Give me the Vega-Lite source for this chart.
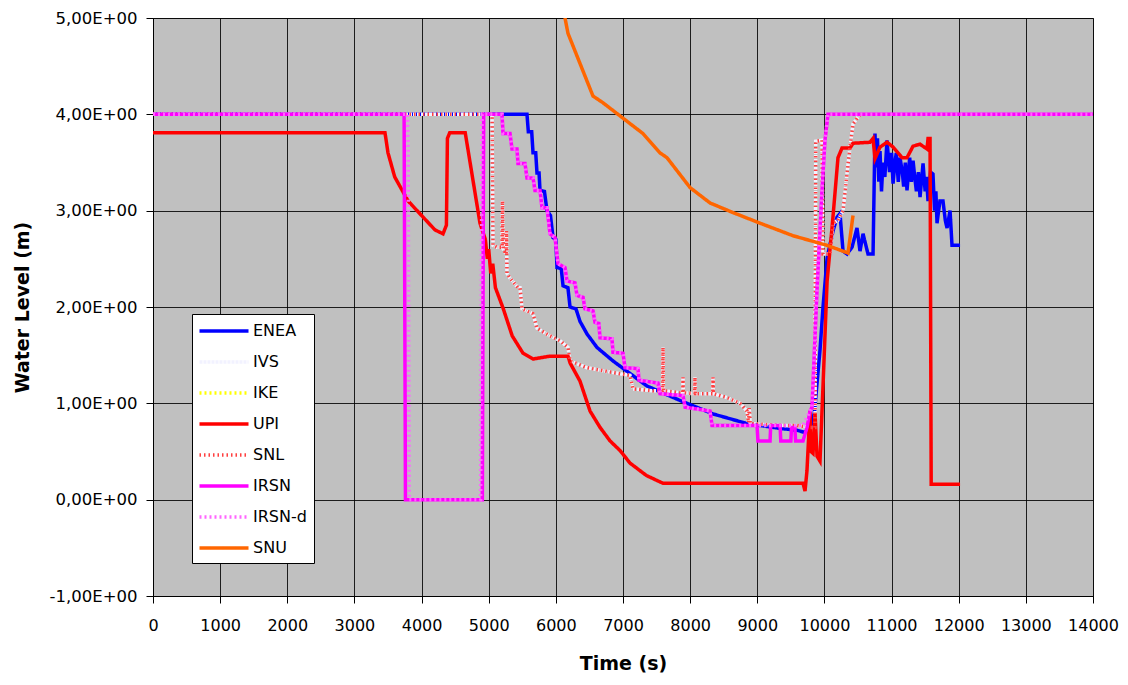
{
  "$schema": "https://vega.github.io/schema/vega-lite/v6.json",
  "width": 940,
  "height": 578,
  "autosize": {"type": "none"},
  "padding": {"left": 153, "top": 18, "right": 35, "bottom": 89},
  "background": "white",
  "config": {
    "view": {"fill": "#C0C0C0", "stroke": "#444444", "strokeWidth": 1},
    "axis": {"gridColor": "#000000", "gridOpacity": 0.85, "gridWidth": 1, "domainColor": "#000000", "tickColor": "#000000", "labelColor": "#000000", "titleColor": "#000000"}
  },
  "data": {"values": [
    {"s":"ENEA","t":0,"v":4.0},{"s":"ENEA","t":5570,"v":4.0},{"s":"ENEA","t":5590,"v":3.82},{"s":"ENEA","t":5640,"v":3.82},{"s":"ENEA","t":5660,"v":3.6},{"s":"ENEA","t":5700,"v":3.6},{"s":"ENEA","t":5719,"v":3.39},{"s":"ENEA","t":5750,"v":3.39},{"s":"ENEA","t":5764,"v":3.21},{"s":"ENEA","t":5830,"v":3.2},{"s":"ENEA","t":5868,"v":3.0},{"s":"ENEA","t":5920,"v":2.95},{"s":"ENEA","t":5958,"v":2.72},{"s":"ENEA","t":6000,"v":2.7},{"s":"ENEA","t":6017,"v":2.41},{"s":"ENEA","t":6080,"v":2.4},{"s":"ENEA","t":6107,"v":2.22},{"s":"ENEA","t":6180,"v":2.2},{"s":"ENEA","t":6211,"v":2.0},{"s":"ENEA","t":6300,"v":1.98},{"s":"ENEA","t":6360,"v":1.85},{"s":"ENEA","t":6464,"v":1.72},{"s":"ENEA","t":6613,"v":1.58},{"s":"ENEA","t":6851,"v":1.44},{"s":"ENEA","t":7104,"v":1.31},{"s":"ENEA","t":7357,"v":1.18},{"s":"ENEA","t":7849,"v":1.03},{"s":"ENEA","t":8341,"v":0.89},{"s":"ENEA","t":8847,"v":0.79},{"s":"ENEA","t":9339,"v":0.74},{"s":"ENEA","t":9592,"v":0.72},{"s":"ENEA","t":9700,"v":0.7},{"s":"ENEA","t":9780,"v":0.72},{"s":"ENEA","t":9850,"v":0.9},{"s":"ENEA","t":9934,"v":1.55},{"s":"ENEA","t":9979,"v":2.0},{"s":"ENEA","t":10040,"v":2.51},{"s":"ENEA","t":10128,"v":2.79},{"s":"ENEA","t":10187,"v":2.93},{"s":"ENEA","t":10232,"v":2.97},{"s":"ENEA","t":10277,"v":2.58},{"s":"ENEA","t":10336,"v":2.55},{"s":"ENEA","t":10411,"v":2.62},{"s":"ENEA","t":10485,"v":2.82},{"s":"ENEA","t":10530,"v":2.58},{"s":"ENEA","t":10575,"v":2.76},{"s":"ENEA","t":10649,"v":2.55},{"s":"ENEA","t":10724,"v":2.55},{"s":"ENEA","t":10753,"v":3.8},{"s":"ENEA","t":10770,"v":3.45},{"s":"ENEA","t":10790,"v":3.75},{"s":"ENEA","t":10810,"v":3.3},{"s":"ENEA","t":10828,"v":3.62},{"s":"ENEA","t":10850,"v":3.2},{"s":"ENEA","t":10872,"v":3.5},{"s":"ENEA","t":10900,"v":3.35},{"s":"ENEA","t":10932,"v":3.73},{"s":"ENEA","t":10970,"v":3.4},{"s":"ENEA","t":11000,"v":3.6},{"s":"ENEA","t":11022,"v":3.28},{"s":"ENEA","t":11050,"v":3.5},{"s":"ENEA","t":11070,"v":3.6},{"s":"ENEA","t":11100,"v":3.3},{"s":"ENEA","t":11126,"v":3.55},{"s":"ENEA","t":11160,"v":3.4},{"s":"ENEA","t":11180,"v":3.25},{"s":"ENEA","t":11205,"v":3.5},{"s":"ENEA","t":11230,"v":3.21},{"s":"ENEA","t":11270,"v":3.55},{"s":"ENEA","t":11295,"v":3.3},{"s":"ENEA","t":11320,"v":3.52},{"s":"ENEA","t":11345,"v":3.35},{"s":"ENEA","t":11370,"v":3.2},{"s":"ENEA","t":11400,"v":3.4},{"s":"ENEA","t":11424,"v":3.14},{"s":"ENEA","t":11469,"v":3.49},{"s":"ENEA","t":11500,"v":3.2},{"s":"ENEA","t":11520,"v":3.35},{"s":"ENEA","t":11543,"v":3.1},{"s":"ENEA","t":11580,"v":3.4},{"s":"ENEA","t":11617,"v":3.38},{"s":"ENEA","t":11640,"v":3.0},{"s":"ENEA","t":11660,"v":3.2},{"s":"ENEA","t":11677,"v":2.87},{"s":"ENEA","t":11720,"v":3.1},{"s":"ENEA","t":11766,"v":3.1},{"s":"ENEA","t":11800,"v":2.9},{"s":"ENEA","t":11826,"v":2.82},{"s":"ENEA","t":11871,"v":3.0},{"s":"ENEA","t":11900,"v":2.64},{"s":"ENEA","t":12020,"v":2.64},

    {"s":"IVS","t":0,"v":4.0},{"s":"IVS","t":5050,"v":4.0},{"s":"IVS","t":5064,"v":2.64},{"s":"IVS","t":5123,"v":2.62},{"s":"IVS","t":5200,"v":2.62},{"s":"IVS","t":5205,"v":3.1},{"s":"IVS","t":5215,"v":2.6},{"s":"IVS","t":5260,"v":2.55},{"s":"IVS","t":5265,"v":2.79},{"s":"IVS","t":5272,"v":2.35},{"s":"IVS","t":5317,"v":2.3},{"s":"IVS","t":5436,"v":2.2},{"s":"IVS","t":5466,"v":2.2},{"s":"IVS","t":5496,"v":1.98},{"s":"IVS","t":5660,"v":1.93},{"s":"IVS","t":5719,"v":1.78},{"s":"IVS","t":5913,"v":1.7},{"s":"IVS","t":6062,"v":1.65},{"s":"IVS","t":6181,"v":1.58},{"s":"IVS","t":6211,"v":1.44},{"s":"IVS","t":6464,"v":1.37},{"s":"IVS","t":6851,"v":1.32},{"s":"IVS","t":7104,"v":1.29},{"s":"IVS","t":7149,"v":1.15},{"s":"IVS","t":7447,"v":1.13},{"s":"IVS","t":7590,"v":1.13},{"s":"IVS","t":7596,"v":1.58},{"s":"IVS","t":7602,"v":1.13},{"s":"IVS","t":7849,"v":1.11},{"s":"IVS","t":7890,"v":1.11},{"s":"IVS","t":7894,"v":1.27},{"s":"IVS","t":7898,"v":1.11},{"s":"IVS","t":8068,"v":1.1},{"s":"IVS","t":8072,"v":1.27},{"s":"IVS","t":8076,"v":1.1},{"s":"IVS","t":8337,"v":1.1},{"s":"IVS","t":8341,"v":1.27},{"s":"IVS","t":8345,"v":1.1},{"s":"IVS","t":8549,"v":1.06},{"s":"IVS","t":8743,"v":1.0},{"s":"IVS","t":8847,"v":0.92},{"s":"IVS","t":8870,"v":0.8},{"s":"IVS","t":8880,"v":0.95},{"s":"IVS","t":8895,"v":0.79},{"s":"IVS","t":9339,"v":0.77},{"s":"IVS","t":9592,"v":0.77},{"s":"IVS","t":9785,"v":0.75},{"s":"IVS","t":9860,"v":0.75},{"s":"IVS","t":9870,"v":3.72},{"s":"IVS","t":9964,"v":3.73},{"s":"IVS","t":9979,"v":2.55},{"s":"IVS","t":10083,"v":2.55},{"s":"IVS","t":10128,"v":2.87},{"s":"IVS","t":10202,"v":2.9},{"s":"IVS","t":10277,"v":3.0},{"s":"IVS","t":10336,"v":3.38},{"s":"IVS","t":10381,"v":3.66},{"s":"IVS","t":10426,"v":3.9},{"s":"IVS","t":10530,"v":4.0},

    {"s":"IKE","t":0,"v":4.0},

    {"s":"UPI","t":0,"v":3.81},{"s":"UPI","t":3455,"v":3.81},{"s":"UPI","t":3500,"v":3.6},{"s":"UPI","t":3600,"v":3.35},{"s":"UPI","t":3800,"v":3.1},{"s":"UPI","t":4000,"v":2.95},{"s":"UPI","t":4200,"v":2.8},{"s":"UPI","t":4320,"v":2.76},{"s":"UPI","t":4370,"v":2.85},{"s":"UPI","t":4385,"v":3.75},{"s":"UPI","t":4420,"v":3.81},{"s":"UPI","t":4650,"v":3.81},{"s":"UPI","t":4870,"v":2.87},{"s":"UPI","t":4950,"v":2.7},{"s":"UPI","t":4980,"v":2.5},{"s":"UPI","t":5000,"v":2.6},{"s":"UPI","t":5030,"v":2.35},{"s":"UPI","t":5060,"v":2.45},{"s":"UPI","t":5100,"v":2.2},{"s":"UPI","t":5213,"v":1.99},{"s":"UPI","t":5350,"v":1.7},{"s":"UPI","t":5511,"v":1.52},{"s":"UPI","t":5660,"v":1.46},{"s":"UPI","t":5913,"v":1.49},{"s":"UPI","t":6181,"v":1.49},{"s":"UPI","t":6211,"v":1.42},{"s":"UPI","t":6360,"v":1.23},{"s":"UPI","t":6509,"v":0.92},{"s":"UPI","t":6658,"v":0.75},{"s":"UPI","t":6807,"v":0.61},{"s":"UPI","t":6956,"v":0.51},{"s":"UPI","t":7104,"v":0.38},{"s":"UPI","t":7350,"v":0.25},{"s":"UPI","t":7596,"v":0.17},{"s":"UPI","t":9681,"v":0.17},{"s":"UPI","t":9711,"v":0.09},{"s":"UPI","t":9740,"v":0.3},{"s":"UPI","t":9785,"v":0.92},{"s":"UPI","t":9800,"v":0.5},{"s":"UPI","t":9830,"v":0.48},{"s":"UPI","t":9860,"v":0.9},{"s":"UPI","t":9890,"v":0.45},{"s":"UPI","t":9934,"v":0.4},{"s":"UPI","t":9980,"v":1.2},{"s":"UPI","t":10040,"v":2.27},{"s":"UPI","t":10113,"v":2.82},{"s":"UPI","t":10202,"v":3.55},{"s":"UPI","t":10262,"v":3.65},{"s":"UPI","t":10381,"v":3.65},{"s":"UPI","t":10426,"v":3.7},{"s":"UPI","t":10679,"v":3.71},{"s":"UPI","t":10724,"v":3.75},{"s":"UPI","t":10753,"v":3.54},{"s":"UPI","t":10828,"v":3.66},{"s":"UPI","t":10932,"v":3.71},{"s":"UPI","t":11022,"v":3.66},{"s":"UPI","t":11156,"v":3.55},{"s":"UPI","t":11230,"v":3.55},{"s":"UPI","t":11320,"v":3.67},{"s":"UPI","t":11424,"v":3.69},{"s":"UPI","t":11528,"v":3.64},{"s":"UPI","t":11543,"v":3.75},{"s":"UPI","t":11573,"v":3.75},{"s":"UPI","t":11590,"v":0.16},{"s":"UPI","t":12020,"v":0.16},

    {"s":"SNL","t":0,"v":4.0},{"s":"SNL","t":5050,"v":4.0},{"s":"SNL","t":5064,"v":2.64},{"s":"SNL","t":5123,"v":2.62},{"s":"SNL","t":5200,"v":2.62},{"s":"SNL","t":5205,"v":3.1},{"s":"SNL","t":5215,"v":2.6},{"s":"SNL","t":5260,"v":2.55},{"s":"SNL","t":5265,"v":2.79},{"s":"SNL","t":5272,"v":2.35},{"s":"SNL","t":5317,"v":2.3},{"s":"SNL","t":5436,"v":2.2},{"s":"SNL","t":5466,"v":2.2},{"s":"SNL","t":5496,"v":1.98},{"s":"SNL","t":5660,"v":1.93},{"s":"SNL","t":5719,"v":1.78},{"s":"SNL","t":5913,"v":1.7},{"s":"SNL","t":6062,"v":1.65},{"s":"SNL","t":6181,"v":1.58},{"s":"SNL","t":6211,"v":1.44},{"s":"SNL","t":6464,"v":1.37},{"s":"SNL","t":6851,"v":1.32},{"s":"SNL","t":7104,"v":1.29},{"s":"SNL","t":7149,"v":1.15},{"s":"SNL","t":7447,"v":1.13},{"s":"SNL","t":7590,"v":1.13},{"s":"SNL","t":7596,"v":1.58},{"s":"SNL","t":7602,"v":1.13},{"s":"SNL","t":7849,"v":1.11},{"s":"SNL","t":7890,"v":1.11},{"s":"SNL","t":7894,"v":1.27},{"s":"SNL","t":7898,"v":1.11},{"s":"SNL","t":8068,"v":1.1},{"s":"SNL","t":8072,"v":1.27},{"s":"SNL","t":8076,"v":1.1},{"s":"SNL","t":8337,"v":1.1},{"s":"SNL","t":8341,"v":1.27},{"s":"SNL","t":8345,"v":1.1},{"s":"SNL","t":8549,"v":1.06},{"s":"SNL","t":8743,"v":1.0},{"s":"SNL","t":8847,"v":0.92},{"s":"SNL","t":8870,"v":0.8},{"s":"SNL","t":8880,"v":0.95},{"s":"SNL","t":8895,"v":0.79},{"s":"SNL","t":9339,"v":0.77},{"s":"SNL","t":9592,"v":0.77},{"s":"SNL","t":9785,"v":0.75},{"s":"SNL","t":9860,"v":0.75},{"s":"SNL","t":9870,"v":3.72},{"s":"SNL","t":9964,"v":3.73},{"s":"SNL","t":9979,"v":2.55},{"s":"SNL","t":10083,"v":2.55},{"s":"SNL","t":10128,"v":2.87},{"s":"SNL","t":10202,"v":2.9},{"s":"SNL","t":10277,"v":3.0},{"s":"SNL","t":10336,"v":3.38},{"s":"SNL","t":10381,"v":3.66},{"s":"SNL","t":10426,"v":3.9},{"s":"SNL","t":10530,"v":4.0},

    {"s":"IRSN","t":0,"v":4.0},{"s":"IRSN","t":3740,"v":4.0},{"s":"IRSN","t":3760,"v":0.0},{"s":"IRSN","t":4905,"v":0.0},{"s":"IRSN","t":4925,"v":4.0},{"s":"IRSN","t":5198,"v":4.0},{"s":"IRSN","t":5213,"v":3.8},{"s":"IRSN","t":5317,"v":3.8},{"s":"IRSN","t":5347,"v":3.64},{"s":"IRSN","t":5421,"v":3.64},{"s":"IRSN","t":5436,"v":3.49},{"s":"IRSN","t":5540,"v":3.49},{"s":"IRSN","t":5570,"v":3.34},{"s":"IRSN","t":5660,"v":3.34},{"s":"IRSN","t":5689,"v":3.21},{"s":"IRSN","t":5764,"v":3.21},{"s":"IRSN","t":5794,"v":3.03},{"s":"IRSN","t":5868,"v":3.03},{"s":"IRSN","t":5913,"v":2.76},{"s":"IRSN","t":5988,"v":2.72},{"s":"IRSN","t":6032,"v":2.45},{"s":"IRSN","t":6136,"v":2.41},{"s":"IRSN","t":6166,"v":2.27},{"s":"IRSN","t":6285,"v":2.25},{"s":"IRSN","t":6315,"v":2.12},{"s":"IRSN","t":6405,"v":2.1},{"s":"IRSN","t":6434,"v":1.98},{"s":"IRSN","t":6553,"v":1.96},{"s":"IRSN","t":6583,"v":1.84},{"s":"IRSN","t":6640,"v":1.83},{"s":"IRSN","t":6658,"v":1.68},{"s":"IRSN","t":6836,"v":1.67},{"s":"IRSN","t":6851,"v":1.53},{"s":"IRSN","t":7000,"v":1.52},{"s":"IRSN","t":7030,"v":1.37},{"s":"IRSN","t":7224,"v":1.36},{"s":"IRSN","t":7238,"v":1.24},{"s":"IRSN","t":7521,"v":1.21},{"s":"IRSN","t":7551,"v":1.1},{"s":"IRSN","t":7894,"v":1.08},{"s":"IRSN","t":7924,"v":0.96},{"s":"IRSN","t":8296,"v":0.92},{"s":"IRSN","t":8326,"v":0.77},{"s":"IRSN","t":8996,"v":0.77},{"s":"IRSN","t":9010,"v":0.61},{"s":"IRSN","t":9190,"v":0.61},{"s":"IRSN","t":9200,"v":0.77},{"s":"IRSN","t":9339,"v":0.77},{"s":"IRSN","t":9350,"v":0.61},{"s":"IRSN","t":9500,"v":0.61},{"s":"IRSN","t":9510,"v":0.75},{"s":"IRSN","t":9560,"v":0.75},{"s":"IRSN","t":9570,"v":0.61},{"s":"IRSN","t":9681,"v":0.61},{"s":"IRSN","t":9741,"v":0.75},{"s":"IRSN","t":9785,"v":0.92},{"s":"IRSN","t":9815,"v":0.96},{"s":"IRSN","t":9889,"v":2.17},{"s":"IRSN","t":9964,"v":3.21},{"s":"IRSN","t":10008,"v":3.73},{"s":"IRSN","t":10053,"v":4.0},{"s":"IRSN","t":14000,"v":4.0},

    {"s":"IRSN-d","t":0,"v":4.0},{"s":"IRSN-d","t":3790,"v":4.0},{"s":"IRSN-d","t":3800,"v":3.64},{"s":"IRSN-d","t":3815,"v":0.0},{"s":"IRSN-d","t":4880,"v":0.0},{"s":"IRSN-d","t":4900,"v":4.0},{"s":"IRSN-d","t":5198,"v":4.0},{"s":"IRSN-d","t":5213,"v":3.8},{"s":"IRSN-d","t":5317,"v":3.8},{"s":"IRSN-d","t":5347,"v":3.64},{"s":"IRSN-d","t":5421,"v":3.64},{"s":"IRSN-d","t":5436,"v":3.49},{"s":"IRSN-d","t":5540,"v":3.49},{"s":"IRSN-d","t":5570,"v":3.34},{"s":"IRSN-d","t":5660,"v":3.34},{"s":"IRSN-d","t":5689,"v":3.21},{"s":"IRSN-d","t":5764,"v":3.21},{"s":"IRSN-d","t":5794,"v":3.03},{"s":"IRSN-d","t":5868,"v":3.03},{"s":"IRSN-d","t":5913,"v":2.76},{"s":"IRSN-d","t":5988,"v":2.72},{"s":"IRSN-d","t":6032,"v":2.45},{"s":"IRSN-d","t":6136,"v":2.41},{"s":"IRSN-d","t":6166,"v":2.27},{"s":"IRSN-d","t":6285,"v":2.25},{"s":"IRSN-d","t":6315,"v":2.12},{"s":"IRSN-d","t":6405,"v":2.1},{"s":"IRSN-d","t":6434,"v":1.98},{"s":"IRSN-d","t":6553,"v":1.96},{"s":"IRSN-d","t":6583,"v":1.84},{"s":"IRSN-d","t":6640,"v":1.83},{"s":"IRSN-d","t":6658,"v":1.68},{"s":"IRSN-d","t":6836,"v":1.67},{"s":"IRSN-d","t":6851,"v":1.53},{"s":"IRSN-d","t":7000,"v":1.52},{"s":"IRSN-d","t":7030,"v":1.37},{"s":"IRSN-d","t":7224,"v":1.36},{"s":"IRSN-d","t":7238,"v":1.24},{"s":"IRSN-d","t":7521,"v":1.21},{"s":"IRSN-d","t":7551,"v":1.1},{"s":"IRSN-d","t":7894,"v":1.08},{"s":"IRSN-d","t":7924,"v":0.96},{"s":"IRSN-d","t":8296,"v":0.92},{"s":"IRSN-d","t":8326,"v":0.77},{"s":"IRSN-d","t":9681,"v":0.77},{"s":"IRSN-d","t":9785,"v":0.92},{"s":"IRSN-d","t":9815,"v":0.96},{"s":"IRSN-d","t":9889,"v":2.17},{"s":"IRSN-d","t":9964,"v":3.21},{"s":"IRSN-d","t":10008,"v":3.73},{"s":"IRSN-d","t":10053,"v":4.0},{"s":"IRSN-d","t":14000,"v":4.0},

    {"s":"SNU","t":6136,"v":5.0},{"s":"SNU","t":6181,"v":4.84},{"s":"SNU","t":6553,"v":4.19},{"s":"SNU","t":6702,"v":4.12},{"s":"SNU","t":7000,"v":3.96},{"s":"SNU","t":7298,"v":3.8},{"s":"SNU","t":7551,"v":3.6},{"s":"SNU","t":7655,"v":3.55},{"s":"SNU","t":7998,"v":3.24},{"s":"SNU","t":8296,"v":3.08},{"s":"SNU","t":8639,"v":2.98},{"s":"SNU","t":9041,"v":2.87},{"s":"SNU","t":9532,"v":2.74},{"s":"SNU","t":10040,"v":2.64},{"s":"SNU","t":10351,"v":2.56},{"s":"SNU","t":10426,"v":2.95}
  ]},
  "mark": {"type": "line", "clip": true, "strokeCap": "butt", "strokeJoin": "miter"},
  "encoding": {
    "x": {
      "field": "t", "type": "quantitative",
      "scale": {"domain": [0, 14000], "nice": false, "zero": false},
      "axis": {"values": [0,1000,2000,3000,4000,5000,6000,7000,8000,9000,10000,11000,12000,13000,14000], "format": "d", "grid": true, "tickSize": 7, "labelPadding": 14, "labelOverlap": false, "labelFlush": false, "labelFont": "DejaVu Sans", "labelFontSize": 16, "title": "Time (s)", "titleFont": "DejaVu Sans", "titleFontSize": 19, "titleFontWeight": "bold", "titlePadding": 21, "domainWidth": 1}
    },
    "y": {
      "field": "v", "type": "quantitative",
      "scale": {"domain": [-1, 5], "nice": false, "zero": false},
      "axis": {"values": [-1,0,1,2,3,4,5], "labelExpr": "(datum.value < 0 ? '-' : '') + replace(format(abs(datum.value), '.2f'), '.', ',') + 'E+00'", "grid": true, "tickSize": 7, "labelPadding": 9, "labelOverlap": false, "labelFlush": false, "labelFont": "DejaVu Sans", "labelFontSize": 16.5, "title": "Water Level (m)", "titleFont": "DejaVu Sans", "titleFontSize": 19, "titleFontWeight": "bold", "titlePadding": 17, "domainWidth": 1}
    },
    "color": {
      "field": "s", "type": "nominal",
      "scale": {"domain": ["ENEA","IVS","IKE","UPI","SNL","IRSN","IRSN-d","SNU"], "range": ["#0000FF","#F2F2FF","#FFFF00","#FF0000","#FF4040","#FF00FF","#FF66FF","#FF6600"]},
      "legend": {"title": null, "orient": "none", "legendX": 39, "legendY": 296, "fillColor": "white", "strokeColor": "#000000", "padding": 7, "symbolType": "M-3,0H3", "symbolSize": 267, "symbolOffset": 15, "labelFont": "DejaVu Sans", "labelFontSize": 16, "labelColor": "#000000", "labelOffset": 19, "rowPadding": 13, "symbolOpacity": 1}
    },
    "strokeDash": {
      "field": "s", "type": "nominal",
      "scale": {"domain": ["ENEA","IVS","IKE","UPI","SNL","IRSN","IRSN-d","SNU"], "range": [[1,0],[3,1],[2,3],[1,0],[1.5,3],[1,0],[2,3],[1,0]]},
      "legend": null
    },
    "strokeWidth": {
      "field": "s", "type": "nominal",
      "scale": {"domain": ["ENEA","IVS","IKE","UPI","SNL","IRSN","IRSN-d","SNU"], "range": [3.5,3.5,2,3.5,1.5,3.5,2,3.5]},
      "legend": null
    }
  }
}
